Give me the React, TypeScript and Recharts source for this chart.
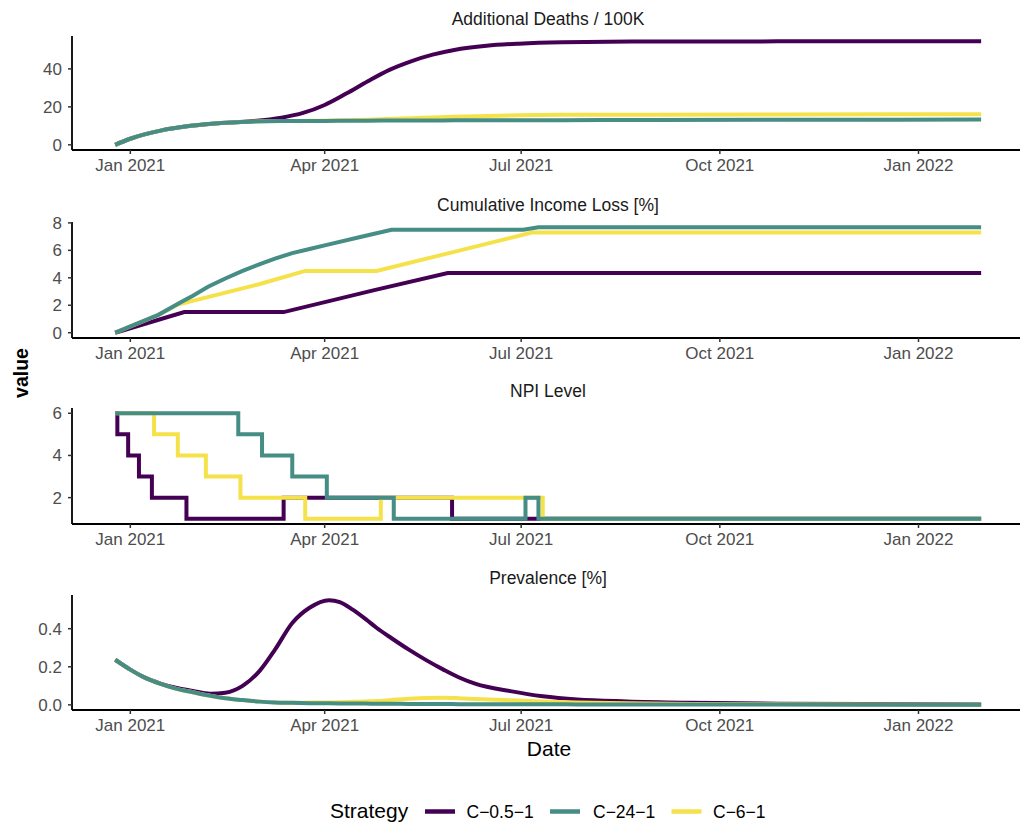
import { LineChart, Line, XAxis, YAxis } from "recharts";

// legend order: C-0.5-1, C-24-1, C-6-1
const strategies = ["C\u22120.5\u22121", "C\u221224\u22121", "C\u22126\u22121"];
const colors = ["#440154", "#458D85", "#F5E24B"];

const tickDates = ["2021-01-01", "2021-04-01", "2021-07-01", "2021-10-01", "2022-01-01"];
const tickLabels = ["Jan 2021", "Apr 2021", "Jul 2021", "Oct 2021", "Jan 2022"];

// Additional Deaths / 100K
const deathDates = [
  "2020-12-25", "2021-01-01", "2021-01-08", "2021-01-15", "2021-01-29", "2021-02-12",
  "2021-02-26", "2021-03-12", "2021-03-22", "2021-04-01", "2021-04-11", "2021-04-21",
  "2021-05-01", "2021-05-11", "2021-05-21", "2021-05-31", "2021-06-15", "2021-06-30",
  "2021-07-20", "2021-08-29", "2021-10-28", "2022-01-30",
];
const deathPurple = [0, 3.2, 5.6, 7.5, 10.0, 11.5, 12.4, 14.3, 16.8, 21.0, 27.0, 33.5, 39.5, 44.0, 47.5, 50.0, 52.2, 53.3, 54.0, 54.4, 54.5, 54.6];
const deathTeal = [0, 3.2, 5.6, 7.5, 10.0, 11.5, 12.2, 12.5, 12.6, 12.6, 12.7, 12.7, 12.8, 12.8, 12.8, 12.9, 12.9, 13.0, 13.0, 13.1, 13.2, 13.3];
const deathYellow = [0, 3.2, 5.6, 7.5, 10.0, 11.5, 12.2, 12.5, 12.6, 12.7, 12.9, 13.2, 13.6, 14.0, 14.4, 14.8, 15.2, 15.6, 15.8, 15.9, 16.0, 16.1];

// Cumulative Income Loss [%]
const incomePurpleDates = ["2020-12-25", "2021-01-26", "2021-03-13", "2021-04-24", "2021-05-28", "2022-01-30"];
const incomePurple = [0, 1.5, 1.5, 3.1, 4.35, 4.35];
const incomeTealDates = [
  "2020-12-25", "2021-01-14", "2021-01-25", "2021-01-30", "2021-02-06", "2021-02-14",
  "2021-02-22", "2021-03-02", "2021-03-09", "2021-03-17", "2021-03-25", "2021-04-02",
  "2021-04-17", "2021-05-02", "2021-07-02", "2021-07-09", "2022-01-30",
];
const incomeTeal = [0, 1.3, 2.27, 2.7, 3.35, 3.95, 4.5, 5.0, 5.4, 5.8, 6.1, 6.4, 6.95, 7.5, 7.5, 7.68, 7.68];
const incomeYellowDates = ["2020-12-25", "2021-01-14", "2021-01-23", "2021-03-02", "2021-03-23", "2021-04-25", "2021-05-30", "2021-07-06", "2022-01-30"];
const incomeYellow = [0, 1.3, 2.05, 3.55, 4.5, 4.5, 5.85, 7.3, 7.3];

// NPI Level (steps)
const npiPurpleDates = ["2020-12-25", "2020-12-26", "2020-12-31", "2021-01-05", "2021-01-11", "2021-01-27", "2021-03-13", "2021-05-30", "2022-01-30"];
const npiPurple = [6, 5, 4, 3, 2, 1, 2, 1, 1];
const npiTealDates = ["2020-12-25", "2021-02-20", "2021-03-03", "2021-03-17", "2021-04-02", "2021-05-03", "2021-07-03", "2021-07-09", "2022-01-30"];
const npiTeal = [6, 5, 4, 3, 2, 1, 2, 1, 1];
const npiYellowDates = ["2020-12-25", "2021-01-12", "2021-01-23", "2021-02-05", "2021-02-21", "2021-03-23", "2021-04-27", "2021-07-11", "2022-01-30"];
const npiYellow = [6, 5, 4, 3, 2, 1, 2, 1, 1];

// Prevalence [%]
const prevDates = [
  "2020-12-25", "2021-01-01", "2021-01-07", "2021-01-15", "2021-01-22", "2021-01-30",
  "2021-02-07", "2021-02-14", "2021-02-22", "2021-03-02", "2021-03-09", "2021-03-17",
  "2021-03-25", "2021-04-03", "2021-04-08", "2021-04-14", "2021-04-20", "2021-04-25",
  "2021-05-02", "2021-05-10", "2021-05-18", "2021-05-26", "2021-06-02", "2021-06-10",
  "2021-06-26", "2021-07-11", "2021-07-27", "2021-08-19", "2021-09-18", "2021-10-28",
  "2021-12-07", "2022-01-30",
];
const prevPurple = [0.237, 0.185, 0.147, 0.112, 0.09, 0.073, 0.058, 0.064, 0.10, 0.18, 0.29, 0.43, 0.51, 0.55, 0.54, 0.50, 0.45, 0.405, 0.35, 0.29, 0.235, 0.185, 0.145, 0.11, 0.072, 0.045, 0.028, 0.018, 0.011, 0.006, 0.004, 0.002];
const prevTeal = [0.237, 0.185, 0.147, 0.11, 0.085, 0.066, 0.048, 0.035, 0.025, 0.017, 0.013, 0.011, 0.009, 0.008, 0.0075, 0.007, 0.0065, 0.006, 0.0055, 0.005, 0.0045, 0.004, 0.0038, 0.0035, 0.003, 0.003, 0.0025, 0.002, 0.002, 0.0015, 0.001, 0.001];
const prevYellow = [0.237, 0.185, 0.147, 0.11, 0.085, 0.066, 0.048, 0.035, 0.025, 0.017, 0.013, 0.011, 0.012, 0.013, 0.014, 0.016, 0.018, 0.02, 0.026, 0.032, 0.036, 0.037, 0.035, 0.031, 0.024, 0.017, 0.012, 0.008, 0.005, 0.003, 0.002, 0.001];

const DAY = 86400000;
const toDay = (s: string) => (Date.parse(s) - Date.parse("2021-01-01")) / DAY;
const pts = (dates: string[], vals: number[]) => dates.map((s, i) => ({ d: toDay(s), v: vals[i] }));

const tickDays = tickDates.map(toDay);
const xDomain = [-27, 412];
const FONT = "'Liberation Sans', Arial, sans-serif";

type Series = { name: string; color: string; data: { d: number; v: number }[] };

// draw order as in the original: purple, yellow, teal
const order = (p: any, t: any, y: any): Series[] => [
  { name: strategies[0], color: colors[0], data: p },
  { name: strategies[2], color: colors[2], data: y },
  { name: strategies[1], color: colors[1], data: t },
];

const panels = [
  {
    title: "Additional Deaths / 100K",
    top: 36, h: 114, domain: [-2.73, 57.33], ticks: [0, 20, 40], curve: "monotone", fmt: (v: number) => String(v),
    series: order(pts(deathDates, deathPurple), pts(deathDates, deathTeal), pts(deathDates, deathYellow)),
  },
  {
    title: "Cumulative Income Loss [%]",
    top: 222, h: 116, domain: [-0.385, 8.065], ticks: [0, 2, 4, 6, 8], curve: "linear", fmt: (v: number) => String(v),
    series: order(pts(incomePurpleDates, incomePurple), pts(incomeTealDates, incomeTeal), pts(incomeYellowDates, incomeYellow)),
  },
  {
    title: "NPI Level",
    top: 408, h: 116, domain: [0.75, 6.25], ticks: [2, 4, 6], curve: "stepAfter", fmt: (v: number) => String(v),
    series: order(pts(npiPurpleDates, npiPurple), pts(npiTealDates, npiTeal), pts(npiYellowDates, npiYellow)),
  },
  {
    title: "Prevalence [%]",
    top: 595, h: 115, domain: [-0.027, 0.577], ticks: [0, 0.2, 0.4], curve: "monotone", fmt: (v: number) => v.toFixed(1),
    series: order(pts(prevDates, prevPurple), pts(prevDates, prevTeal), pts(prevDates, prevYellow)),
  },
];

const PAD = 14;
const XH = 34;

function Panel({ p }: { p: (typeof panels)[number] }) {
  return (
    <div style={{ position: "absolute", left: 0, top: p.top - PAD }}>
      <LineChart width={1020} height={p.h + PAD + XH} margin={{ top: PAD, right: 0, left: 0, bottom: 0 }}>
        <XAxis
          type="number"
          dataKey="d"
          domain={xDomain}
          allowDataOverflow
          ticks={tickDays}
          tickFormatter={(v: number) => tickLabels[tickDays.indexOf(v)] ?? ""}
          height={XH}
          tickSize={4}
          tickMargin={5}
          axisLine={{ stroke: "#000", strokeWidth: 1.8 }}
          tickLine={{ stroke: "#333", strokeWidth: 1.5 }}
          tick={{ fill: "#4d4d4d", fontSize: 17 }}
          interval={0}
        />
        <YAxis
          type="number"
          domain={p.domain}
          allowDataOverflow
          ticks={p.ticks}
          tickFormatter={p.fmt}
          width={72}
          tickSize={4}
          tickMargin={6}
          axisLine={{ stroke: "#000", strokeWidth: 1.8 }}
          tickLine={{ stroke: "#333", strokeWidth: 1.5 }}
          tick={{ fill: "#4d4d4d", fontSize: 17 }}
          interval={0}
        />
        {p.series.map((s) => (
          <Line
            key={s.name}
            data={s.data}
            dataKey="v"
            name={s.name}
            type={p.curve as any}
            stroke={s.color}
            strokeWidth={4}
            dot={false}
            activeDot={false}
            isAnimationActive={false}
          />
        ))}
      </LineChart>
    </div>
  );
}

export default function App() {
  // legend keys, in legend order
  const legend = [
    { x: 425, tx: 466.5 },
    { x: 550, tx: 593 },
    { x: 671.5, tx: 713 },
  ];
  return (
    <div style={{ position: "absolute", left: 0, top: 0, width: 1020, height: 826, background: "#fff", fontFamily: FONT, overflow: "hidden" }}>
      {panels.map((p) => (
        <Panel key={p.title} p={p} />
      ))}
      <svg width={1020} height={826} style={{ position: "absolute", left: 0, top: 0, pointerEvents: "none" }}>
        {panels.map((p) => (
          <text key={p.title} x={548} y={p.top - 11} textAnchor="middle" fontSize={17.5} fill="#1a1a1a">
            {p.title}
          </text>
        ))}
        <text x={28} y={373} transform="rotate(-90 28 373)" textAnchor="middle" fontSize={19.5} fontWeight="bold" fill="#000">
          value
        </text>
        <text x={549} y={756} textAnchor="middle" fontSize={21} fill="#000">
          Date
        </text>
        <text x={330} y={818} fontSize={21} fill="#000">
          Strategy
        </text>
        {legend.map((l, i) => (
          <g key={strategies[i]}>
            <line x1={l.x} x2={l.x + 30} y1={811.5} y2={811.5} stroke={colors[i]} strokeWidth={4.5} />
            <text x={l.tx} y={818} fontSize={17.5} fill="#000">
              {strategies[i]}
            </text>
          </g>
        ))}
      </svg>
    </div>
  );
}
